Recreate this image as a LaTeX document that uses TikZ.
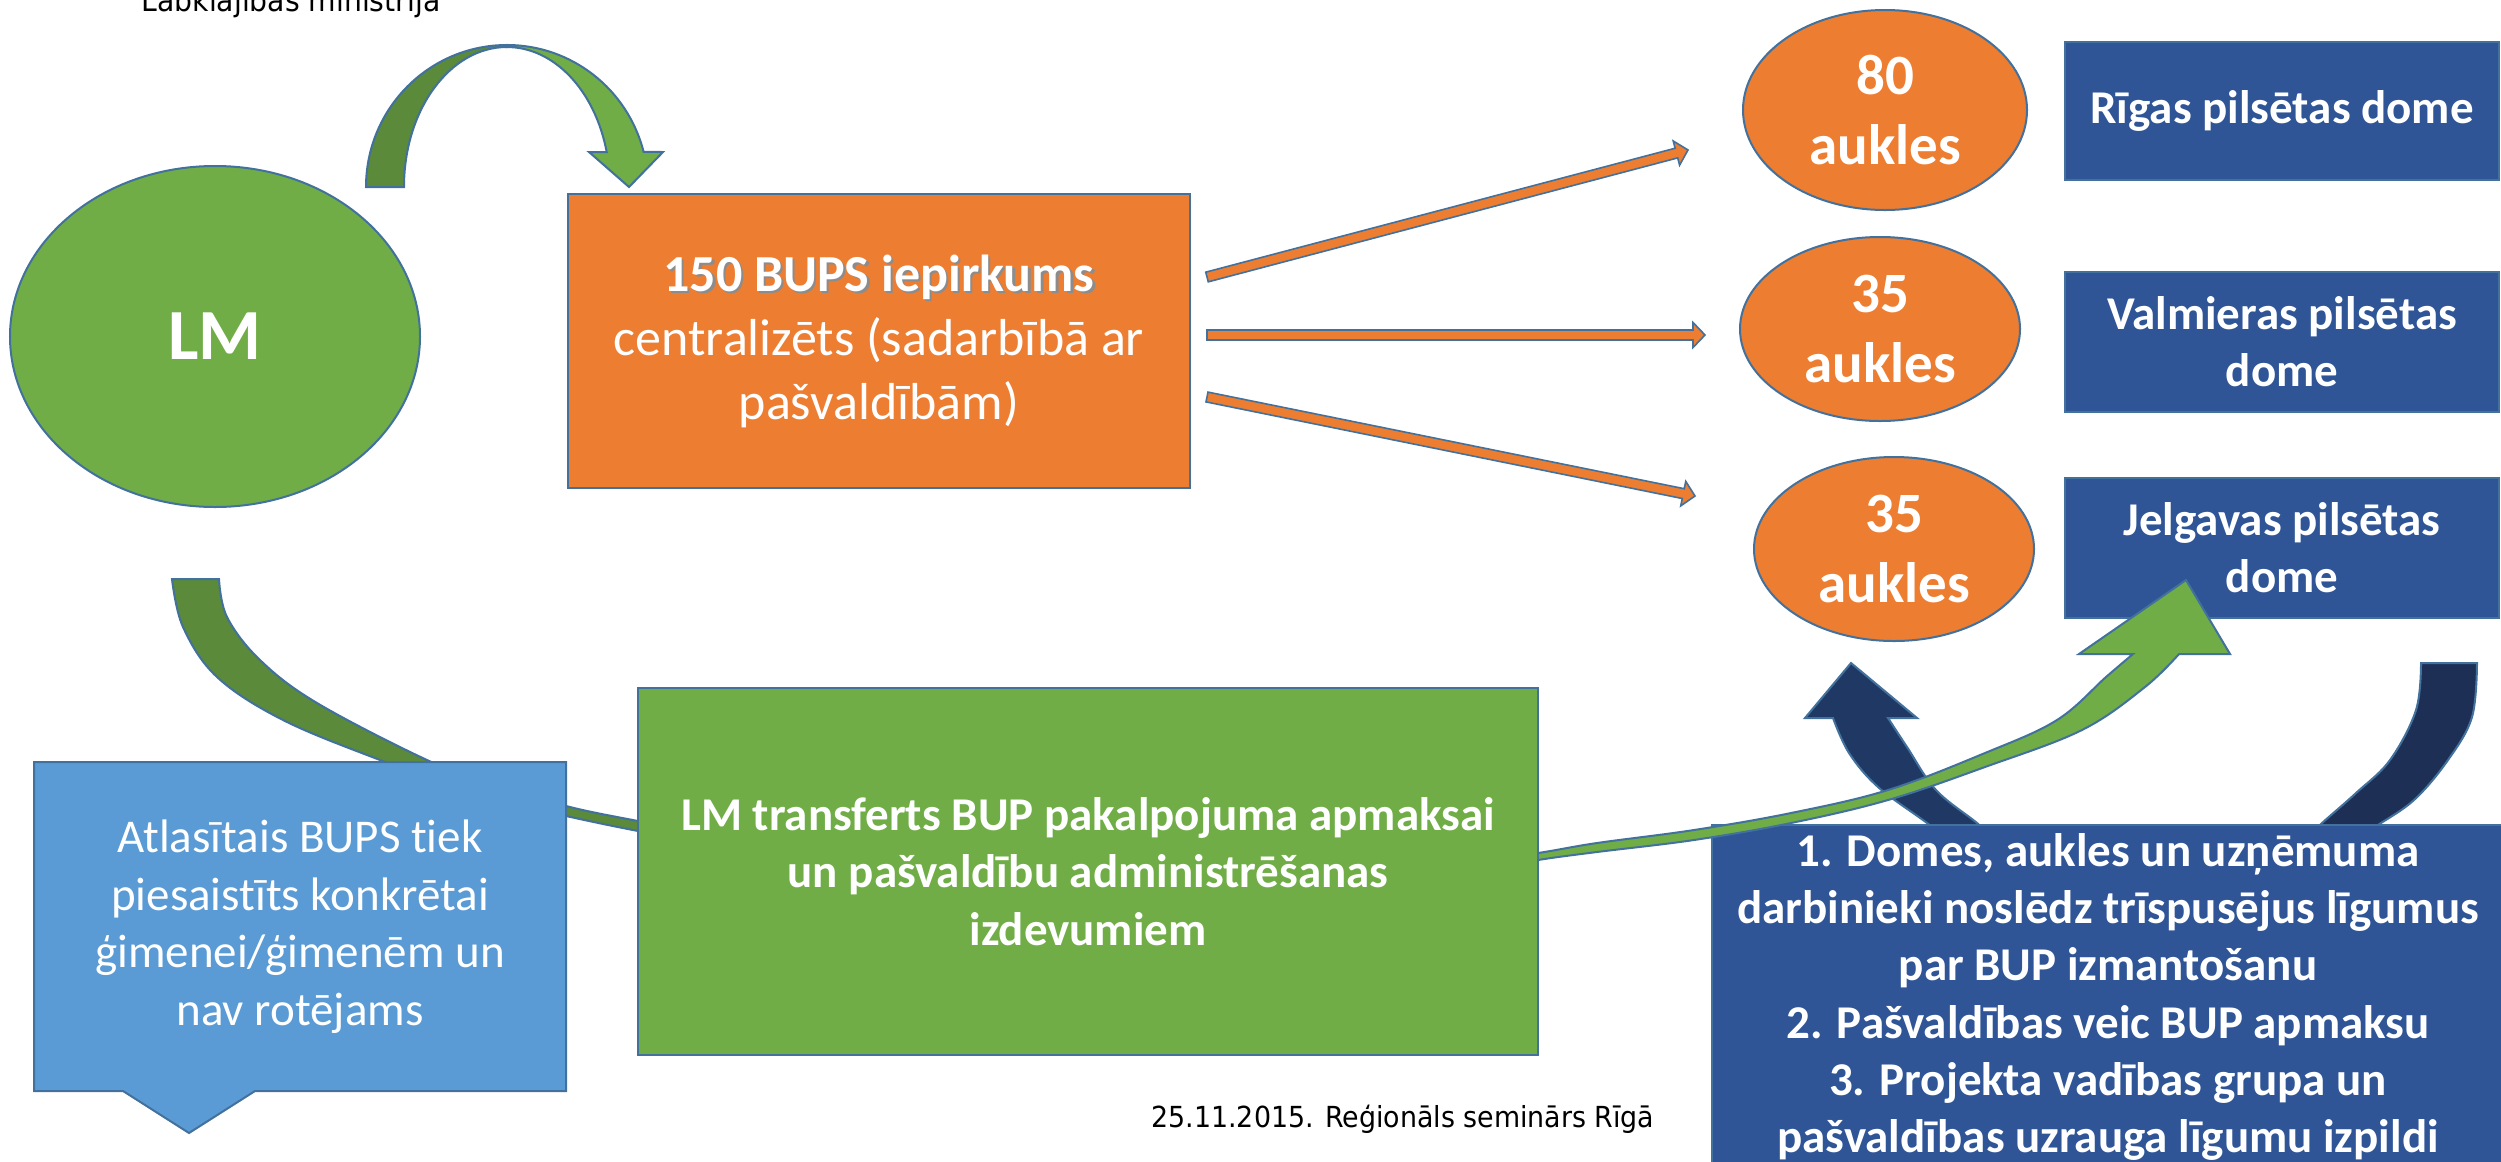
\documentclass[tikz,border=0pt]{standalone}
\usepackage{fontspec}
\setmainfont[Ligatures={NoCommon}]{Carlito}
\newfontfamily\verdfont[FakeStretch=0.926]{DejaVu Sans}
\usetikzlibrary{calc,shapes.geometric}
\definecolor{orangeF}{HTML}{ED7D31}
\definecolor{greenF}{HTML}{70AD47}
\definecolor{dkgreen}{HTML}{5A8A3A}
\definecolor{outl}{HTML}{41719C}
\definecolor{navyBox}{HTML}{2F5597}
\definecolor{navyA}{HTML}{203864}
\definecolor{navyB}{HTML}{1E2F55}
\definecolor{ltblue}{HTML}{5B9BD5}
\newcommand\shadowed[1]{\leavevmode\rlap{\kern2.5bp\raisebox{-2.5bp}{\color{black!45}#1}}#1}
\newcommand\oarrow[2]{%
  \path ($(#2)!12bp!(#1)$) coordinate (oH);
  \filldraw[oarr] ($(#1)!5bp!90:(#2)$) -- ($(oH)!5bp!-90:(#1)$) -- ($(oH)!12.5bp!-90:(#1)$) -- (#2)
    -- ($(oH)!12.5bp!90:(#1)$) -- ($(oH)!5bp!90:(#1)$) -- ($(#1)!5bp!-90:(#2)$) -- cycle;}
\begin{document}
\begin{tikzpicture}[x=1bp,y=-1bp,
  shp/.style={draw=outl,line width=2bp},
  oarr/.style={draw=outl,line width=1.6bp,fill=orangeF,line join=miter},
  bx/.style={shp,rectangle,inner sep=0pt,text=white,align=center},
  wtxt/.style={text=white,align=center,inner sep=0pt},
  fbold/.style={font=\fontsize{47bp}{57.3bp}\selectfont\bfseries},
  freg/.style={font=\fontsize{47bp}{57.5bp}\selectfont},
  fell/.style={font=\fontsize{57bp}{70bp}\selectfont\bfseries},
]
\useasboundingbox (0,0) rectangle (2501,1161);
\fill[white] (0,0) rectangle (2501,1161);

% title (cut at top, as in the reference)
\node[anchor=base,inner sep=0pt,font=\verdfont\fontsize{30.5bp}{36bp}\selectfont] (title) at (291,11) {Labklājības ministrija};

% curved arrow LM -> purchase box
\filldraw[shp,fill=dkgreen] (366,187) arc[start angle=180,end angle=270,x radius=141,y radius=142]
  -- (507,47) arc[start angle=270,end angle=180,x radius=103,y radius=140] -- cycle;
\filldraw[shp,fill=greenF,line join=miter] (507,45) arc[start angle=270,end angle=345.7,x radius=141,y radius=142]
  -- (663,152) -- (629,187) -- (589,152) -- (606.7,152)
  arc[start angle=345.5,end angle=270,x radius=103,y radius=140] -- cycle;

% long green band (dark part) LM -> under transfer box
\filldraw[shp,fill=dkgreen] plot[smooth,tension=0.6] coordinates {(172,579) (183,627) (217,677) (283,720) (380,760) (480,796) (566,816) (638,831) (720,846)}
  -- plot[smooth,tension=0.6] coordinates {(720,836) (638,821) (566,806) (490,783) (427,760) (317,703) (260,660) (227,617) (219,579)} -- cycle;

% navy circular arrow parts
\filldraw[shp,fill=navyA,line join=miter] plot[smooth,tension=0.6] coordinates {(1950,842) (1927,823) (1878,787) (1849,753) (1833,718)}
  -- (1805,718) -- (1851,663) -- (1917,718)
  -- plot[smooth,tension=0.6] coordinates {(1888,718) (1907,747) (1936,790) (1977,823) (1998,842)} -- cycle;
\filldraw[shp,fill=navyB] (2421,663) -- plot[smooth,tension=0.6] coordinates {(2477,663) (2472,717) (2448,760) (2414,800) (2375,827) (2355,842)}
  -- plot[smooth,tension=0.6] coordinates {(2302,842) (2322,823) (2356,793) (2390,760) (2416,710) (2421,663)} -- cycle;

% navy box
\node[bx,fill=navyBox,minimum width=810bp,minimum height=380bp,anchor=north west] (navy) at (1711,824) {};

% city boxes
\node[bx,fill=navyBox,minimum width=434bp,minimum height=138bp,fbold] (riga) at (2282,111) {Rīgas pilsētas dome};
\node[bx,fill=navyBox,minimum width=434bp,minimum height=140bp,fbold] (valm) at (2282,342) {Valmieras pilsētas\\dome};
\node[bx,fill=navyBox,minimum width=434bp,minimum height=140bp,fbold] (jelg) at (2282,548) {Jelgavas pilsētas\\dome};

% nanny ellipses
\node[shp,ellipse,fill=orangeF,minimum width=284bp,minimum height=200bp,wtxt,fell] (e80) at (1885,110) {80\\aukles};
\node[shp,ellipse,fill=orangeF,minimum width=280bp,minimum height=184bp,wtxt,fell] (e35a) at (1880,329) {35\\aukles};
\node[shp,ellipse,fill=orangeF,minimum width=280bp,minimum height=184bp,wtxt,fell] (e35b) at (1894,549) {35\\aukles};

% purchase box
\node[bx,fill=orangeF,minimum width=622bp,minimum height=294bp,font=\fontsize{52bp}{64bp}\selectfont] (bups) at (879,341)
  {\shadowed{{\bfseries 150 BUPS iepirkums}}\\centralizēts (sadarbībā ar\\pašvaldībām)};

% LM circle
\node[shp,ellipse,fill=greenF,minimum width=410bp,minimum height=341bp,inner sep=0pt,text=white,font=\fontsize{72bp}{80bp}\selectfont\bfseries] (lm) at (215,336.5) {LM};

% light green band -> Jelgava
\filldraw[shp,fill=greenF,line join=miter] plot[smooth,tension=0.6] coordinates {(1470,872) (1538,860) (1597,852) (1694,840) (1791,823) (1888,800) (1985,767) (2082,730) (2145,687) (2179,654)}
  -- (2230,654) -- (2186,580) -- (2079,654)
  -- plot[smooth,tension=0.6] coordinates {(2133,654) (2106,677) (2057,720) (1985,753) (1888,790) (1791,813) (1694,830) (1597,843) (1538,853) (1470,862)} -- cycle;

% transfer box
\node[bx,fill=greenF,minimum width=900bp,minimum height=367bp,fbold] (transf) at (1088,871.5)
  {LM transferts BUP pakalpojuma apmaksai\\un pašvaldību administrēšanas\\izdevumiem};

% callout box
\filldraw[shp,fill=ltblue,line join=miter] (34,762) -- (566,762) -- (566,1091) -- (255,1091) -- (189,1133) -- (123,1091) -- (34,1091) -- cycle;
\node[wtxt,freg] (atlas) at (300,926.5) {Atlasītais BUPS tiek\\piesaistīts konkrētai\\ģimenei/ģimenēm un\\nav rotējams};

% navy box text
\node[wtxt,fbold] (navytxt) at (2108,997) {1. Domes, aukles un uzņēmuma\\darbinieki noslēdz trīspusējus līgumus\\par BUP izmantošanu\\2. Pašvaldības veic BUP apmaksu\\3. Projekta vadības grupa un\\pašvaldības uzrauga līgumu izpildi};

% orange distribution arrows
\coordinate (a1s) at (1207,277); \coordinate (a1e) at (1688,150);
\coordinate (a2s) at (1207,335); \coordinate (a2e) at (1705,335);
\coordinate (a3s) at (1207,397); \coordinate (a3e) at (1695,496);
\oarrow{a1s}{a1e}
\oarrow{a2s}{a2e}
\oarrow{a3s}{a3e}

% footer
\node[anchor=base,inner sep=0pt,font=\verdfont\fontsize{29bp}{35bp}\selectfont] (footer) at (1403,1127) {25.11.2015. Reģionāls seminārs Rīgā};
\end{tikzpicture}
\end{document}
